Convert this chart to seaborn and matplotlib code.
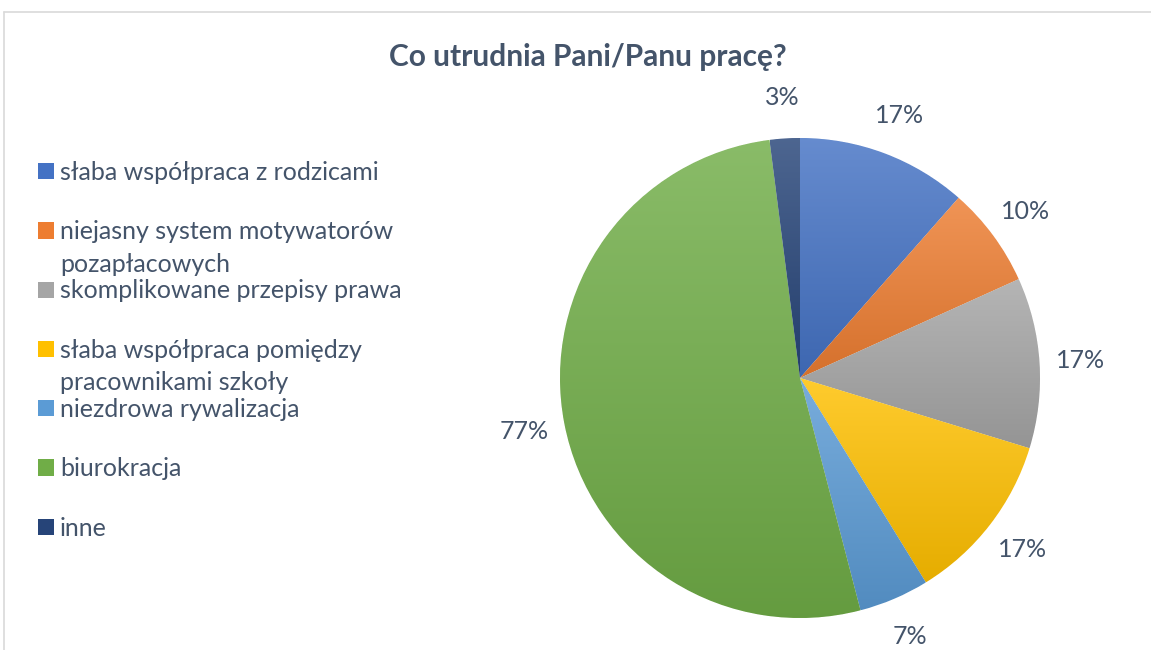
import matplotlib
matplotlib.use("Agg")
import matplotlib.pyplot as plt
import numpy as np
import seaborn as sns
from matplotlib.colors import LinearSegmentedColormap, to_rgb
from matplotlib.lines import Line2D
from matplotlib.patches import Patch

title = "Co utrudnia Pani/Panu pracę?"
categories = [
    "słaba współpraca z rodzicami",
    "niejasny system motywatorów\npozapłacowych",
    "skomplikowane przepisy prawa",
    "słaba współpraca pomiędzy\npracownikami szkoły",
    "niezdrowa rywalizacja",
    "biurokracja",
    "inne",
]
values = [17, 10, 17, 17, 7, 77, 3]
colors = ["#4472C4", "#ED7D31", "#A5A5A5", "#FFC000", "#5B9BD5", "#70AD47", "#264478"]

TEXT = "#44546A"
sns.set_theme(style="white")
plt.rcParams["font.family"] = ["Lato", "DejaVu Sans"]

W, H = 1151, 650
fig = plt.figure(figsize=(W / 100, H / 100), dpi=100)
fig.patch.set_facecolor("white")

# chart frame (light grey, clipped by the image edge)
fig.add_artist(Line2D([4 / W, 1], [1 - 12 / H, 1 - 12 / H], color="#D9D9D9", lw=1.2))
fig.add_artist(Line2D([4 / W, 4 / W], [0, 1 - 12 / H], color="#D9D9D9", lw=1.2))

fig.text(588 / W, 1 - 57 / H, title, ha="center", va="center",
         fontsize=21.5, fontweight="bold", color=TEXT)

cx, cy, r = 800, 378, 240
ax = fig.add_axes([(cx - r) / W, (H - cy - r) / H, 2 * r / W, 2 * r / H])
wedges, texts = ax.pie(values, colors=colors, startangle=90, counterclock=False,
                       labels=[f"{v}%" for v in values], labeldistance=1.17,
                       wedgeprops=dict(edgecolor="white", linewidth=0.6))
ax.set_aspect("equal")
for t in texts:
    t.set_ha("center")
    t.set_va("center")
    t.set_fontsize(18)
    t.set_color(TEXT)
    t.set_clip_on(False)

# vertical gradient inside each wedge (lighter at the top)
grad = np.linspace(0, 1, 256).reshape(-1, 1)
for w, c in zip(wedges, colors):
    base = np.array(to_rgb(c))
    light = base + (1 - base) * 0.18
    dark = base * 0.9
    cmap = LinearSegmentedColormap.from_list("g", [dark, light])
    ext = w.get_path().get_extents()
    im = ax.imshow(grad, cmap=cmap, origin="lower", aspect="auto",
                   extent=[ext.x0, ext.x1, ext.y0, ext.y1], zorder=1.5)
    im.set_clip_path(w)
ax.set_xlim(-1, 1)
ax.set_ylim(-1, 1)

# legend: first line next to the marker, continuation line below it
first_lines = [c.split("\n")[0] for c in categories]
handles = [Patch(facecolor=c, edgecolor="none") for c in colors]
leg = ax.legend(handles, first_lines, loc="upper left",
                bbox_to_anchor=(38 / W, 1 - 161 / H), bbox_transform=fig.transFigure,
                frameon=False, fontsize=18, labelcolor=TEXT,
                handlelength=0.62, handleheight=0.62, handletextpad=0.25,
                labelspacing=1.45, borderpad=0, borderaxespad=0)
for txt, cat in zip(leg.get_texts(), categories):
    parts = cat.split("\n")
    if len(parts) > 1:
        ax.annotate(parts[1], xy=(0, 0), xycoords=txt, xytext=(0, -20.5),
                    textcoords="offset points", ha="left", va="baseline",
                    fontsize=18, color=TEXT, zorder=6, annotation_clip=False)

fig.savefig("out.png", dpi=100, facecolor="white")
